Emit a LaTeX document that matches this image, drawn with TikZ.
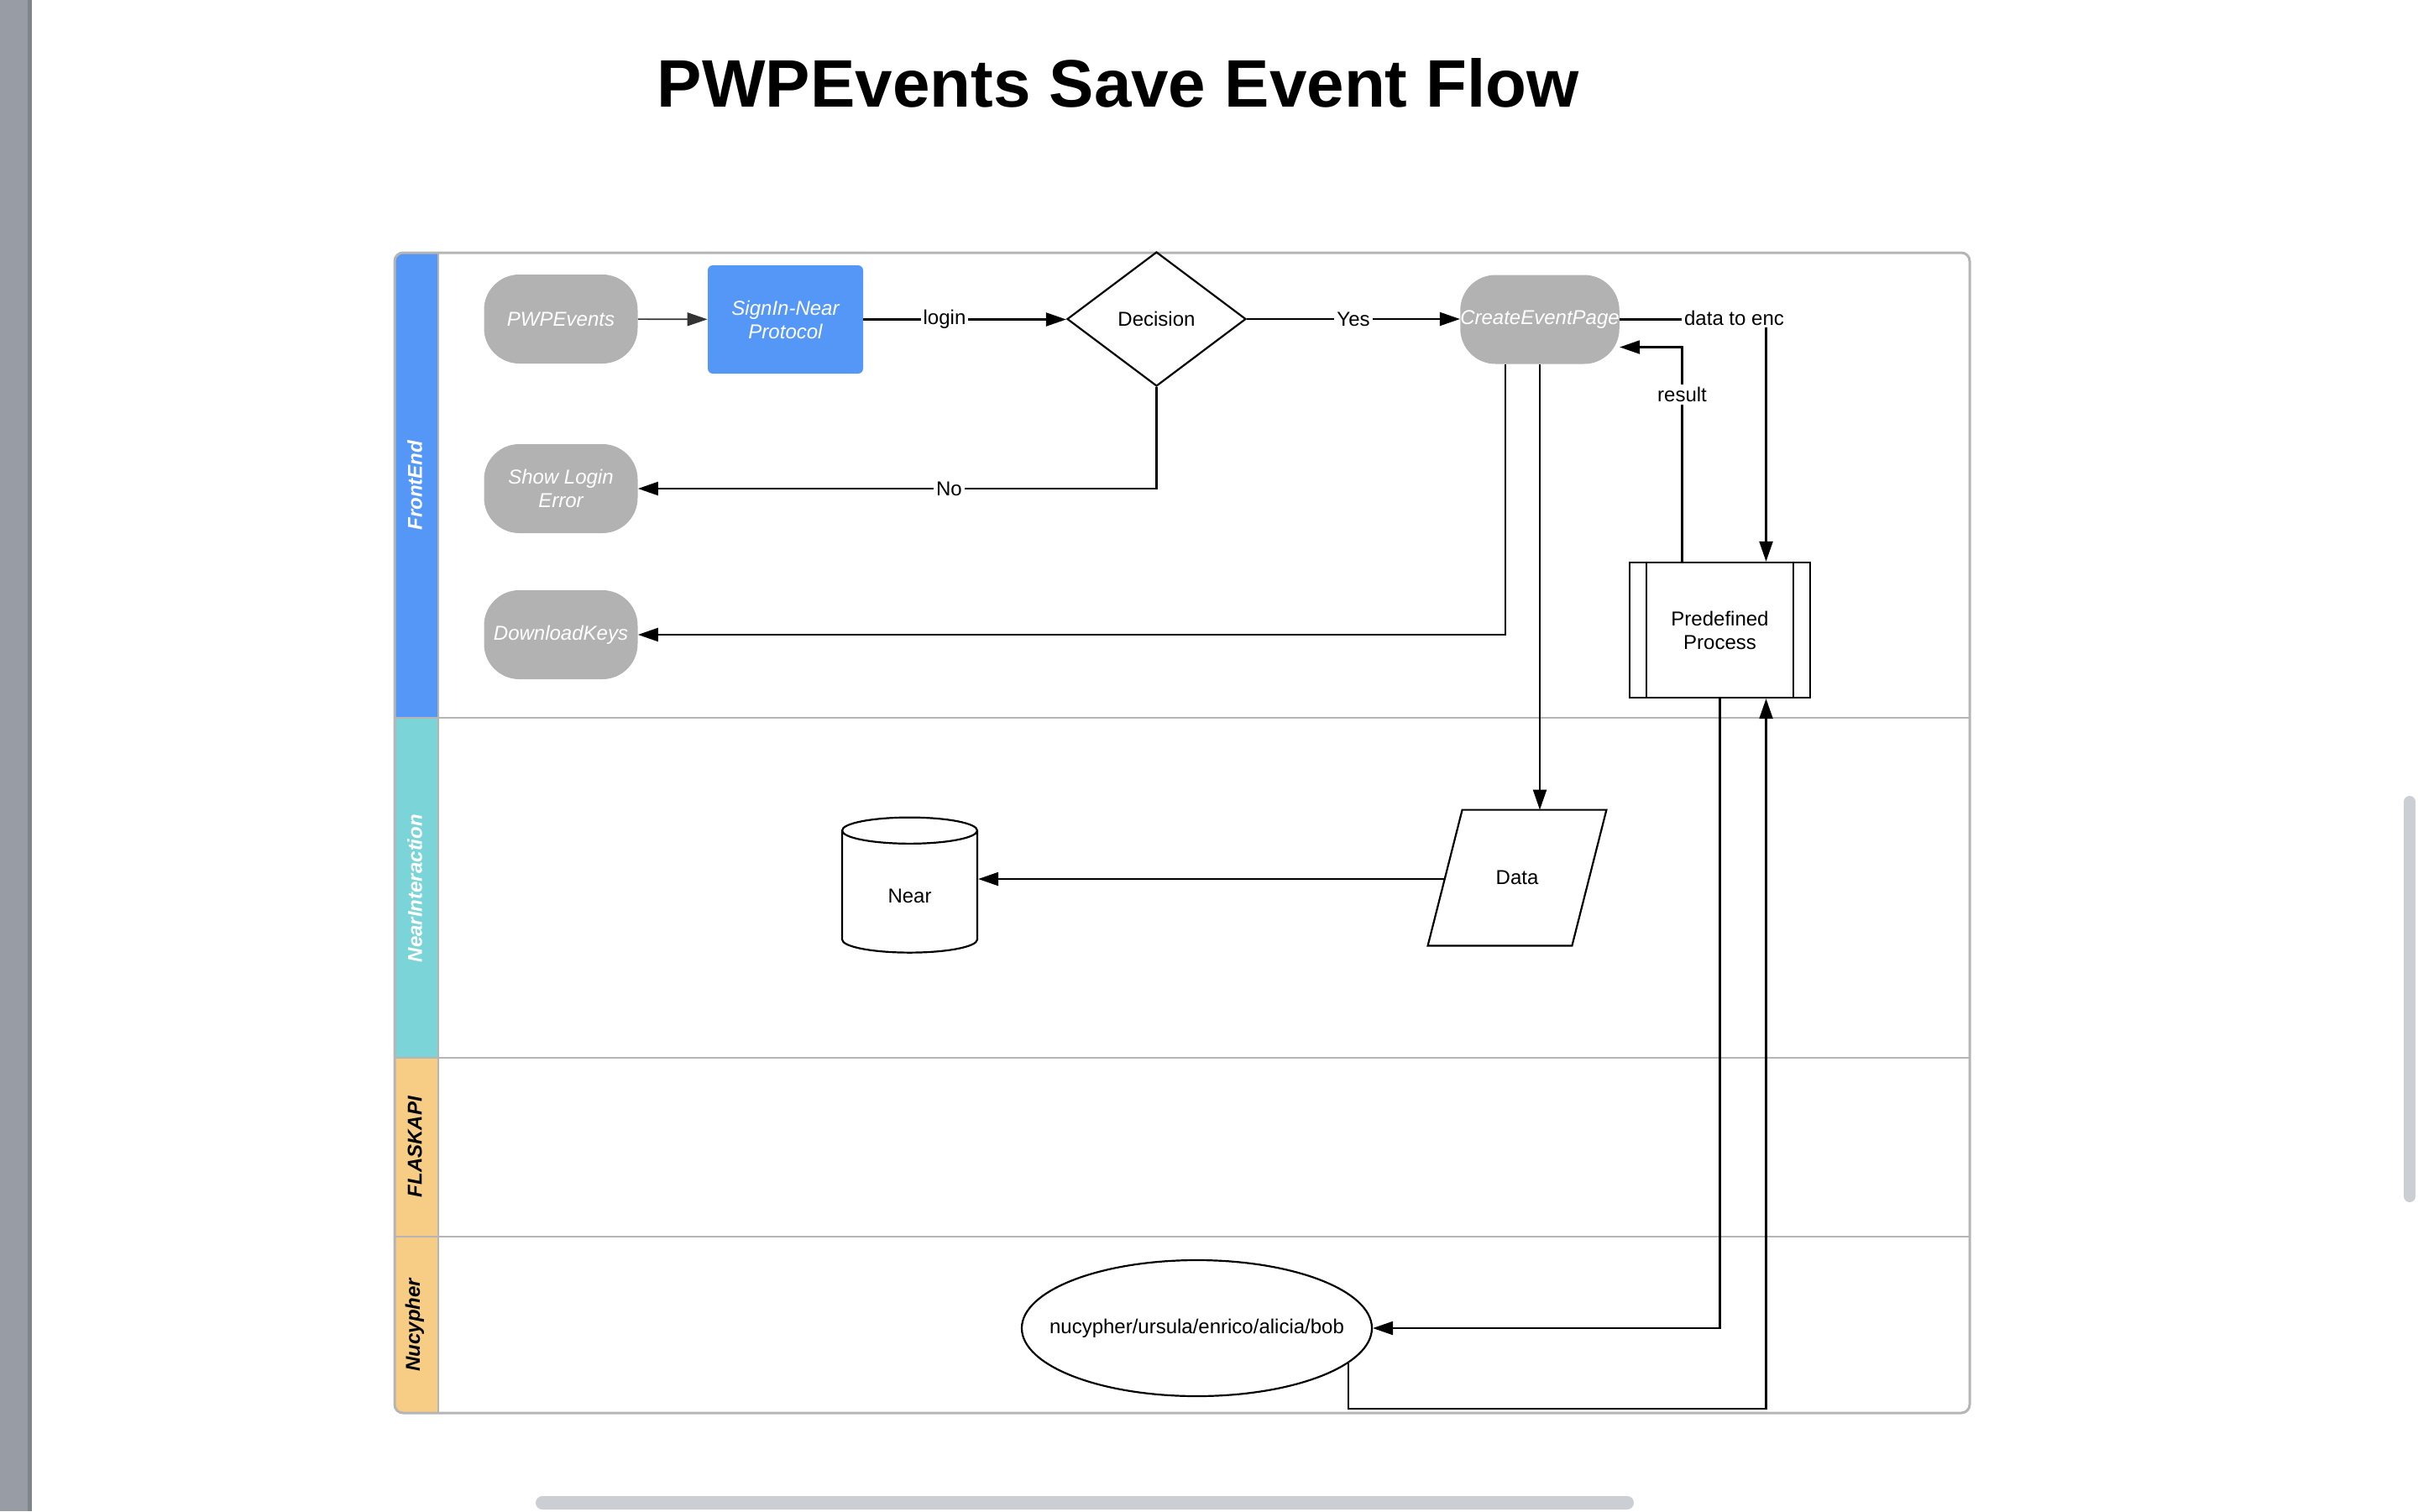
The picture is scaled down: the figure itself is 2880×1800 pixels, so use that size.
\documentclass[tikz,border=0pt]{standalone}
\usepackage{fontspec}
\setmainfont{Liberation Sans}
\usetikzlibrary{shapes.geometric,arrows.meta,calc}

\definecolor{laneblue}{HTML}{5597F6}
\definecolor{laneteal}{HTML}{7BD4D7}
\definecolor{laneorange}{HTML}{F7CD86}
\definecolor{termgray}{HTML}{B2B2B2}
\definecolor{poolgray}{HTML}{B5B5B5}
\definecolor{barsgray}{HTML}{CBCED3}
\definecolor{sidegray}{HTML}{979CA5}

\tikzset{
  >={Triangle[length=12pt,width=8pt]},
  every node/.style={font=\fontsize{12}{14}\selectfont},
  flow/.style={line width=1.1pt},
  lbl/.style={fill=white, inner sep=1.5pt},
  terminal/.style={fill=termgray, text=white, font=\fontsize{12}{14}\selectfont\itshape,
    rounded corners=21pt, minimum width=91.5pt, minimum height=53pt, inner sep=1pt, align=center},
  signbox/.style={fill=laneblue, text=white, font=\fontsize{12}{14}\selectfont\itshape,
    rounded corners=3pt, minimum width=92.5pt, minimum height=64.5pt, align=center},
  decision/.style={diamond, draw, flow, minimum width=106.5pt, minimum height=80pt, inner sep=0pt},
  predef/.style={draw, flow, minimum width=107.5pt, minimum height=80.5pt, align=center},
  dataio/.style={minimum width=106pt, minimum height=80.5pt, inner sep=0pt},
  store/.style={cylinder, shape border rotate=90, aspect=0.6, draw, flow,
    minimum width=80.5pt, minimum height=80.5pt, inner sep=0pt, text height=13.1pt, text depth=0pt},
  lanetext/.style={rotate=90, font=\fontsize{12}{14}\selectfont\bfseries\itshape},
}

\begin{document}
\begin{tikzpicture}[x=0.5pt, y=-0.5pt]
    \useasboundingbox (0,0) rectangle (2880,1800);

    % screen chrome
    \fill[sidegray] (0,0) rectangle (38,1800);
    \fill[sidegray!85!black] (33,0) rectangle (38,1800);
    \fill[barsgray, rounded corners=3.5pt] (2863,948) rectangle (2877,1432);
    \fill[barsgray, rounded corners=4pt] (638,1782) rectangle (1946,1798);

    \node[font=\fontsize{40}{48}\selectfont\bfseries, anchor=base] (title) at (1332,127) {PWPEvents Save Event Flow};

    % pool and lanes
    \begin{scope}
        \clip[rounded corners=5pt] (470,301) rectangle (2346,1683);
        \fill[laneblue] (470,301) rectangle (522,855);
        \fill[laneteal] (470,855) rectangle (522,1260);
        \fill[laneorange] (470,1260) rectangle (522,1683);
    \end{scope}
    \draw[poolgray, line width=0.8pt] (470,855) -- (2346,855);
    \draw[poolgray, line width=0.8pt] (470,1260) -- (2346,1260);
    \draw[poolgray, line width=0.8pt] (470,1473) -- (2346,1473);
    \draw[poolgray, line width=0.8pt] (522,301) -- (522,1683);
    \draw[poolgray, line width=1.5pt, rounded corners=5pt] (470,301) rectangle (2346,1683);

    \node[lanetext, text=white] (lfront) at (494,578) {FrontEnd};
    \node[lanetext, text=white] (lnear) at (494,1058) {NearInteraction};
    \node[lanetext] (lflask) at (494,1366) {FLASKAPI};
    \node[lanetext] (lnucy) at (494,1578) {Nucypher};

    % shapes
    \node[terminal] (pwp) at (668,380) {PWPEvents};
    \node[signbox] (sign) at (935.5,380.5) {SignIn-Near\\Protocol};
    \node[decision] (dec) at (1377.5,380) {Decision};
    \node[terminal, inner xsep=0pt] (cep) at (1834,380.5) {CreateEventPage};
    \node[terminal] (sle) at (668,582) {Show Login\\Error};
    \node[terminal] (dk) at (668,756) {DownloadKeys};
    \node[predef] (pp) at (2048.5,750.5) {Predefined\\Process};
    \draw[flow] ($(pp.north west)+(21,0)$) -- ($(pp.south west)+(21,0)$);
    \draw[flow] ($(pp.north east)+(-21,0)$) -- ($(pp.south east)+(-21,0)$);
    \node[dataio] (data) at (1807,1045.5) {Data};
    \draw[flow] (data.south west) -- ($(data.north west)+(41,0)$) -- (data.north east)
        -- ($(data.south east)+(-41,0)$) -- cycle;
    \coordinate (datain) at ($(data.west)+(20.5,1.5)$);
    \node[store] (near) at (1083.5,1062.5) {Near};
    \node[ellipse, draw, flow, minimum width=208.5pt, minimum height=81pt] (nuc) at (1425.5,1582)
        {\makebox[0pt]{nucypher/ursula/enrico/alicia/bob}};

    % connectors
    \draw[->, line width=0.8pt, black!80] (pwp) -- (sign);
    \draw[->, flow] (sign.east) -- node[lbl, pos=0.4] {login} (sign.east -| dec.west);
    \draw[->, flow] (dec.east) -- node[lbl] {Yes} (dec.east -| cep.west);
    \draw[->, flow] (dec.south) |- node[lbl, pos=0.7] {No} (sle.east);
    \draw[->, flow] ($(cep.south)+(-41,0)$) |- (dk.east);
    \draw[->, flow] (cep.south) -- (cep.south |- data.north);
    \draw[->, flow] (datain) -- (datain -| near.east);
    \draw[->, flow] (cep.east) -| node[lbl, pos=0.5, xshift=-19pt, yshift=1pt] {data to enc} ($(pp.north)+(55,0)$);
    \draw[->, flow] ($(pp.north)+(-45,0)$) |- node[lbl, pos=0.39] {result} ($(cep.east)+(0,33)$);
    \draw[->, flow] (pp.south) |- (nuc.east);
    \draw[->, flow] (nuc.-13) -- ++(0,54) -| ($(pp.south)+(55,0)$);
\end{tikzpicture}
\end{document}
